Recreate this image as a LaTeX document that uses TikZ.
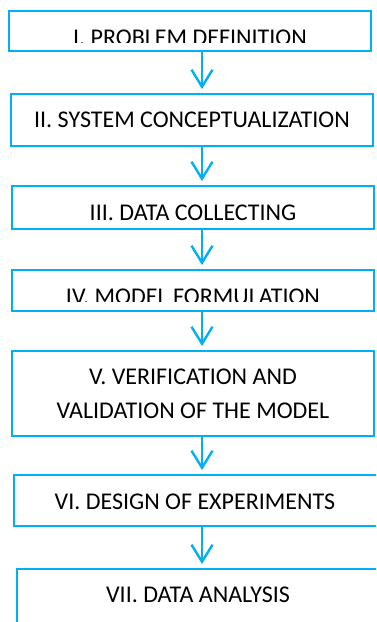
\documentclass[tikz,border=0pt]{standalone}
\usepackage{fontspec}
\setmainfont{Carlito}
\usetikzlibrary{arrows.meta}
\definecolor{flowblue}{RGB}{0,176,240}
\begin{document}
\begin{tikzpicture}[x=1pt,y=-1pt,
  stepbox/.style={draw=flowblue, line width=2.6pt, inner sep=0pt, outer sep=0pt},
  steptext/.style={anchor=base, inner sep=0pt, text=black, font=\fontsize{24}{29}\selectfont},
  flow/.style={draw=flowblue, line width=2.4pt, -{Straight Barb[length=17pt,width=21pt]}, shorten >=5pt}]
\useasboundingbox (0,0) rectangle (376,622);
\clip (0,0) rectangle (376,622);

% process steps
\node[stepbox, minimum width=362pt, minimum height=40pt] (b1) at (190,31) {};
\node[stepbox, minimum width=362pt, minimum height=52pt] (b2) at (192,120) {};
\node[stepbox, minimum width=362pt, minimum height=43pt] (b3) at (193,207.5) {};
\node[stepbox, minimum width=362pt, minimum height=41pt] (b4) at (193,290.5) {};
\node[stepbox, minimum width=362pt, minimum height=85pt] (b5) at (193,393.5) {};
\node[stepbox, minimum width=364pt, minimum height=51pt] (b6) at (196,500.5) {};
\node[stepbox, minimum width=364pt, minimum height=81pt] (b7) at (199,609.5) {};

% step captions
\begin{scope}
  \clip (0,0) rectangle (376,42);
  \node[steptext] (t1) at (190,45) {I. PROBLEM DEFINITION};
\end{scope}
\node[steptext] (t2) at (192,127) {II. SYSTEM CONCEPTUALIZATION};
\node[steptext] (t3) at (193,220) {III. DATA COLLECTING};
\begin{scope}
  \clip (0,260) rectangle (376,301.5);
  \node[steptext] (t4) at (193,304) {IV. MODEL FORMULATION};
\end{scope}
\node[steptext] (t5a) at (193,384) {V. VERIFICATION AND};
\node[steptext] (t5b) at (193,418) {VALIDATION OF THE MODEL};
\node[steptext] (t6) at (195,509) {VI. DESIGN OF EXPERIMENTS};
\node[steptext] (t7) at (198,602) {VII. DATA ANALYSIS};

% connectors along a common vertical axis
\coordinate (ax) at (202,0);
\draw[flow] (b1.south -| ax) -- (b2.north -| ax);
\draw[flow] (b2.south -| ax) -- (b3.north -| ax);
\draw[flow] (b3.south -| ax) -- (b4.north -| ax);
\draw[flow] (b4.south -| ax) -- (b5.north -| ax);
\draw[flow] (b5.south -| ax) -- (b6.north -| ax);
\draw[flow] (b6.south -| ax) -- (b7.north -| ax);
\end{tikzpicture}
\end{document}
